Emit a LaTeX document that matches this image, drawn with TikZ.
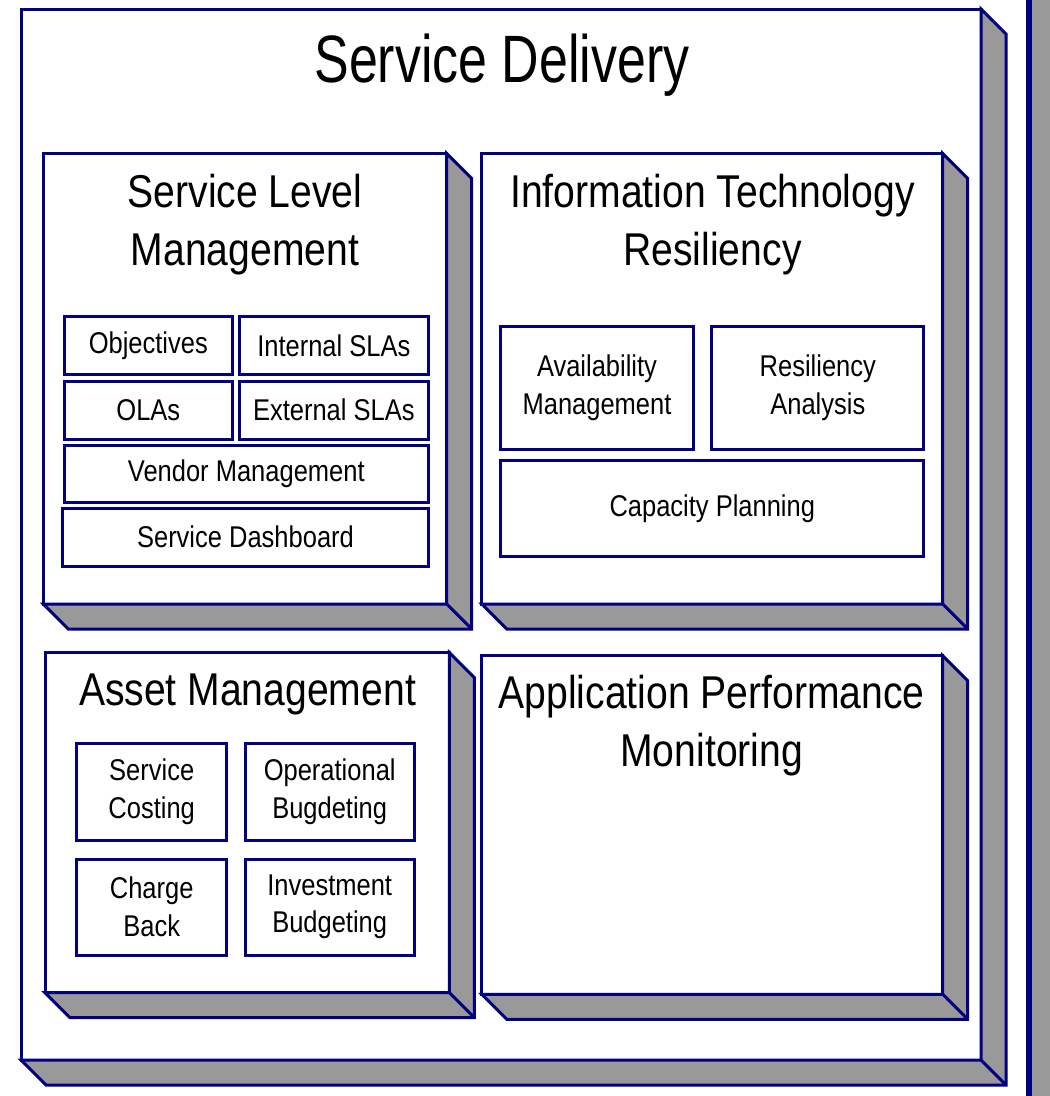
\documentclass[tikz,border=0pt]{standalone}
\usepackage{fontspec}
\newfontfamily\boxfont{Liberation Sans}[FakeStretch=0.85]
\newfontfamily\headfont{Liberation Sans}[FakeStretch=0.775]
\definecolor{navyline}{HTML}{000080}
\definecolor{sidegray}{HTML}{999999}
% gray sides of a 3D box, taken from the node's corners
\newcommand{\boxdepth}[1]{%
  \filldraw[depthface] (#1.north east) -- ++(25,25) -- ([shift={(25,25)}]#1.south east)
    -- ([shift={(25,25)}]#1.south west) -- (#1.south west) -- (#1.south east) -- cycle;
  \draw[depthface] (#1.south east) -- ++(25,25);}

\begin{document}
\begin{tikzpicture}[x=1pt, y=-1pt,
    depthface/.style={fill=sidegray, draw=navyline, line width=3pt},
    frontbox/.style={draw=navyline, fill=white, line width=3pt, inner sep=0pt, outer sep=0pt},
    subbox/.style={frontbox, align=center, font=\boxfont\fontsize{30}{37.5}\selectfont},
    boxtitle/.style={anchor=base, align=center, font=\boxfont\fontsize{46}{58}\selectfont}]
  \useasboundingbox (0,0) rectangle (1050,1096);
  % edge of the next box, cut off by the page
  \fill[sidegray] (1029,0) rectangle (1050,1096);
  \draw[navyline, line width=6pt] (1029,0) -- (1029,1096);

  \node [frontbox, minimum width=960, minimum height=1051] (delivery) at (501,534.5) {};
  \boxdepth{delivery}
  \node [anchor=base, font=\headfont\fontsize{67}{80}\selectfont] (deliverytitle) at (502,82.7) {Service Delivery};

  % Service Level Management
  \node [frontbox, minimum width=403.4, minimum height=450.7] (slm) at (245,378.7) {};
  \boxdepth{slm}
  \node [boxtitle] (slmtitle) at (245,265) {Service Level\\Management};
  \node [subbox, minimum width=168, minimum height=57.3] (objectives) at (148.3,345.5) {Objectives};
  \node [subbox, minimum width=189, minimum height=57.3] (internal) at (333.8,345.5) {Internal SLAs};
  \node [subbox, minimum width=168, minimum height=57.7] (olas) at (148.3,410.2) {OLAs};
  \node [subbox, minimum width=189, minimum height=57.7] (external) at (333.8,410.2) {External SLAs};
  \node [subbox, minimum width=364, minimum height=57.3] (vendor) at (246.3,473.7) {Vendor Management};
  \node [subbox, minimum width=365.6, minimum height=57.7] (dashboard) at (245.5,537.2) {Service Dashboard};

  % Information Technology Resiliency
  \node [frontbox, minimum width=461, minimum height=450.7] (itr) at (712.2,378.7) {};
  \boxdepth{itr}
  \node [boxtitle] (itrtitle) at (712.5,265) {Information Technology\\Resiliency};
  \node [subbox, minimum width=192.6, minimum height=123] (availability) at (597,387.5) {Availability\\Management};
  \node [subbox, minimum width=212.3, minimum height=123] (resiliency) at (817.8,387.5) {Resiliency\\Analysis};
  \node [subbox, minimum width=423.3, minimum height=96] (capacity) at (712.3,508.7) {Capacity Planning};

  % Asset Management
  \node [frontbox, minimum width=404.3, minimum height=340] (asset) at (247.2,822.7) {};
  \boxdepth{asset}
  \node [boxtitle] (assettitle) at (247.5,705) {Asset Management};
  \node [subbox, minimum width=150, minimum height=96.7] (costing) at (151.7,791.7) {Service\\Costing};
  \node [subbox, minimum width=169.3, minimum height=96.7] (operational) at (329.7,791.7) {Operational\\Bugdeting};
  \node [subbox, minimum width=150, minimum height=96] (chargeback) at (151.7,907) {Charge\\Back};
  \node [subbox, minimum width=169.3, minimum height=96] (investment) at (329.7,907) {Investment\\Budgeting};

  % Application Performance Monitoring
  \node [frontbox, minimum width=461, minimum height=338.6] (apm) at (712.2,825) {};
  \boxdepth{apm}
  \node [boxtitle] (apmtitle) at (711.7,766.7) {Application Performance\\Monitoring};
\end{tikzpicture}
\end{document}
